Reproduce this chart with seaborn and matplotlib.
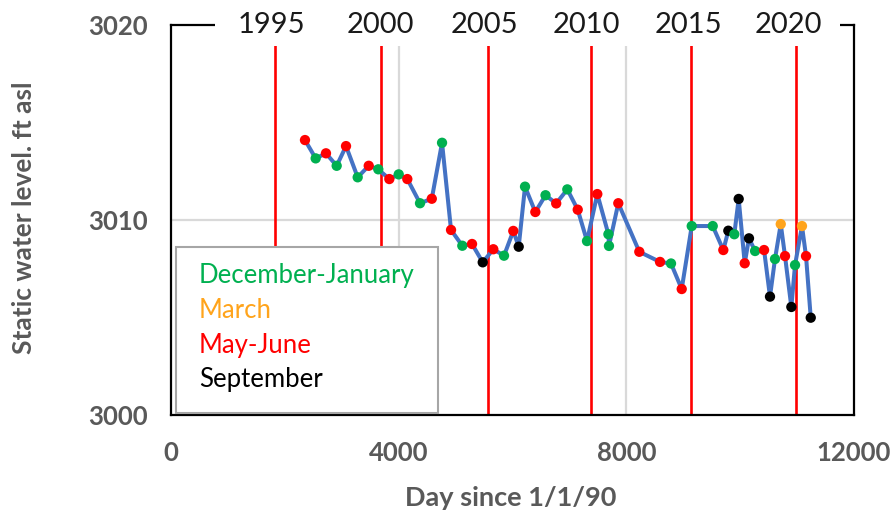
import matplotlib
matplotlib.use("Agg")
import matplotlib.pyplot as plt
import matplotlib.transforms as mtransforms
from matplotlib.patches import Rectangle
import seaborn as sns
import pandas as pd

# ---------------- data ----------------
days = [2354, 2542, 2723, 2911, 3075, 3280, 3474, 3642, 3836, 4001, 4152, 4375,
        4582, 4762, 4920, 5118, 5289, 5477, 5663, 5851, 6014, 6109, 6220, 6401,
        6580, 6768, 6963, 7146, 7309, 7490, 7685, 7695, 7859, 8228, 8592, 8785,
        8973, 9149, 9518, 9704, 9792, 9897, 9974, 10080, 10155, 10262, 10420,
        10524, 10612, 10713, 10788, 10899, 10964, 11086, 11157, 11240]
levels = [3014.10, 3013.16, 3013.42, 3012.78, 3013.79, 3012.19, 3012.78, 3012.60,
          3012.10, 3012.34, 3012.10, 3010.86, 3011.09, 3013.96, 3009.49, 3008.68,
          3008.77, 3007.83, 3008.50, 3008.17, 3009.44, 3008.63, 3011.71, 3010.41,
          3011.27, 3010.85, 3011.57, 3010.53, 3008.92, 3011.33, 3009.27, 3008.67,
          3010.86, 3008.37, 3007.85, 3007.77, 3006.46, 3009.69, 3009.69, 3008.46,
          3009.45, 3009.27, 3011.08, 3007.78, 3009.06, 3008.41, 3008.46, 3006.07,
          3008.00, 3009.79, 3008.15, 3005.54, 3007.69, 3009.69, 3008.15, 3004.99]
season_codes = "RGRGRGRGRGRGRGRGRKRGRKGRGRGRGRGGRRRGRGGRKGKRKGRKGORKGORK"

season_names = ["December-January", "March", "May-June", "September"]
season_colors = ["#00B050", "#FFA41C", "#FF0000", "#000000"]
code_map = {"G": "December-January", "O": "March", "R": "May-June", "K": "September"}
seasons = [code_map[c] for c in season_codes]

year_labels = ["1995", "2000", "2005", "2010", "2015", "2020"]
year_line_days = [1827, 3685, 5570, 7375, 9142, 10985]
year_label_days = [1757, 3672, 5499, 7292, 9084, 10841]

x_ticks = [0, 4000, 8000, 12000]
y_ticks = [3000, 3010, 3020]

df = pd.DataFrame({"day": days, "level": levels, "season": seasons})

# ---------------- style ----------------
sns.set_theme(style="white")
plt.rcParams["font.family"] = ["Lato", "DejaVu Sans"]

fig = plt.figure(figsize=(8.94, 5.12), dpi=100)
ax = fig.add_axes([171 / 894, 1 - 415 / 512, (854 - 171) / 894, (415 - 25) / 512])

# gridlines
for xv in x_ticks[1:-1]:
    ax.axvline(xv, color="#D9D9D9", lw=1.6, zorder=0)
for yv in y_ticks[1:-1]:
    ax.axhline(yv, color="#D9D9D9", lw=1.6, zorder=0)

# red year lines
for d in year_line_days:
    ax.axvline(d, color="#FF0000", lw=1.9, zorder=1)

# data line + points
sns.lineplot(data=df, x="day", y="level", ax=ax, color="#4472C4", lw=2.9,
             sort=False, estimator=None, zorder=2, legend=False)
sns.scatterplot(data=df, x="day", y="level", hue="season", hue_order=season_names,
                palette=season_colors, s=55, edgecolor="none", ax=ax, zorder=3,
                legend=False)

ax.set_xlim(x_ticks[0], x_ticks[-1])
ax.set_ylim(y_ticks[0], y_ticks[-1])
ax.set_xticks(x_ticks)
ax.set_yticks(y_ticks)
ax.set_xticklabels([str(v) for v in x_ticks])
ax.set_yticklabels([str(v) for v in y_ticks])

for s in ax.spines.values():
    s.set_visible(True)
    s.set_color("black")
    s.set_linewidth(1.6)

ax.tick_params(axis="both", direction="out", length=6, width=1.6, color="black",
               labelsize=18.5, labelcolor="#595959")
ax.tick_params(axis="y", pad=11)
ax.tick_params(axis="x", pad=12.5)
for lab in ax.get_xticklabels() + ax.get_yticklabels():
    lab.set_fontweight("bold")

ax.set_xlabel("Day since 1/1/90", fontsize=19.5, fontweight="bold", color="#595959")
ax.set_ylabel("Static water level. ft asl", fontsize=19, fontweight="bold",
              color="#595959")
ax.xaxis.set_label_coords(0.498, -0.183)
ax.yaxis.set_label_coords(-0.198, 0.505)

# legend box (text-only, coloured entries)
leg_box = Rectangle((176 / 894, 1 - 413 / 512), (438 - 176) / 894, (413 - 247) / 512,
                    transform=fig.transFigure, facecolor="white",
                    edgecolor="#A6A6A6", lw=1.5, zorder=5)
fig.patches.append(leg_box)
leg_y = [276, 310, 345, 380]
for name, col, yy in zip(season_names, season_colors, leg_y):
    fig.text(199 / 894, 1 - yy / 512, name, color=col, fontsize=18.5,
             ha="left", va="center", zorder=6)

# white label box at top, covering the top spine, with year labels
top_box = Rectangle((215 / 894, 1 - 46 / 512), (840 - 215) / 894, 46 / 512,
                    transform=fig.transFigure, facecolor="white",
                    edgecolor="none", zorder=5)
fig.patches.append(top_box)
trans = mtransforms.blended_transform_factory(ax.transData, fig.transFigure)
for lab, d in zip(year_labels, year_label_days):
    fig.text(d, 1 - 25 / 512, lab, transform=trans, fontsize=21,
             color="#1a1a1a", ha="center", va="center", zorder=6)

fig.savefig("out.png", dpi=100)
